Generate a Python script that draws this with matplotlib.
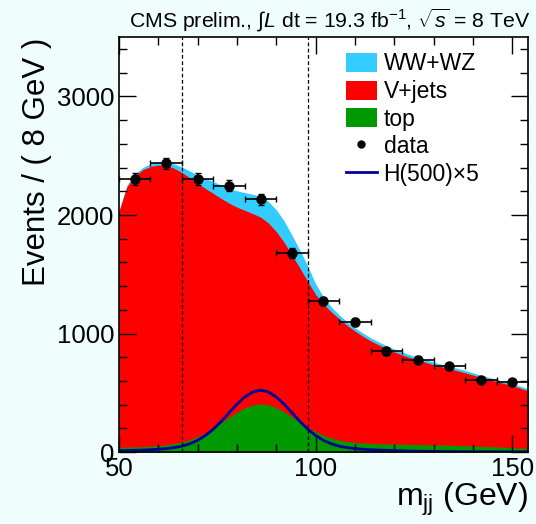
import numpy as np
import matplotlib
matplotlib.use("Agg")
import matplotlib.pyplot as plt
from matplotlib.patches import Patch
from matplotlib.lines import Line2D

plt.rcParams['font.family'] = ['Liberation Sans', 'DejaVu Sans']
plt.rcParams['mathtext.fontset'] = 'custom'
plt.rcParams['mathtext.rm'] = 'Liberation Sans'
plt.rcParams['mathtext.it'] = 'Liberation Sans:italic'
plt.rcParams['mathtext.bf'] = 'Liberation Sans:bold'

# ---- data ----
mjj = np.arange(50, 155, 2)  # sampling grid (GeV)

top_bkg = [42, 43, 44, 47, 51, 55, 62, 72, 86, 105, 131, 164, 204, 249, 295, 338,
           374, 399, 407, 399, 375, 340, 298, 254, 211, 173, 142, 118, 101, 89,
           82, 77, 74, 71, 70, 68, 67, 66, 65, 63, 62, 60, 59, 57, 55, 52, 50,
           47, 45, 42, 38, 35, 32]

vjets = [1990, 2195, 2285, 2334, 2359, 2367, 2358, 2323, 2274, 2209, 2135, 2060,
         1978, 1891, 1805, 1729, 1666, 1613, 1576, 1534, 1485, 1430, 1362, 1300,
         1229, 1157, 1108, 1065, 1023, 981, 940, 901, 865, 834, 805, 778, 754,
         733, 712, 695, 676, 661, 645, 631, 615, 599, 581, 567, 551, 537, 523,
         506, 487]

wwwz = [8, 12, 16, 19, 22, 26, 30, 37, 45, 58, 72, 86, 100, 112, 125, 138, 150,
        163, 175, 182, 185, 180, 170, 150, 130, 90, 60, 42, 34, 30, 28, 27, 26,
        25, 25, 24, 24, 23, 23, 22, 22, 21, 21, 20, 20, 19, 19, 18, 18, 17, 17,
        16, 16]

signal_x5 = [12, 14, 16, 18, 21, 25, 30, 39, 51, 71, 100, 141, 195, 260, 333,
             405, 466, 508, 523, 508, 466, 405, 333, 260, 195, 141, 100, 71, 51,
             39, 30, 25, 21, 18, 16, 14, 12, 10, 9, 8, 7, 6, 6, 5, 5, 4, 4, 4, 4,
             3, 3, 3, 3]

data_x = [54, 62, 70, 78, 86, 94, 102, 110, 118, 126, 134, 142, 150]
data_y = [2304, 2436, 2304, 2247, 2132, 1680, 1274, 1097, 852, 780, 723, 613, 591]

window_edges = [66, 98]

# ---- figure ----
fig = plt.figure(figsize=(5.36, 5.24), dpi=100, facecolor='#f0fdfd')
ax = fig.add_axes([0.222, 0.137, 0.763, 0.792])
ax.set_facecolor('white')

top_arr = np.array(top_bkg, dtype=float)
vj_arr = np.array(vjets, dtype=float)
ww_arr = np.array(wwwz, dtype=float)
lvl1 = top_arr
lvl2 = top_arr + vj_arr
lvl3 = lvl2 + ww_arr

c_ww = '#33ccff'
c_vj = '#ff0000'
c_top = '#009900'
c_sig = '#000099'

ax.fill_between(mjj, 0, lvl3, color=c_ww, lw=0)
ax.fill_between(mjj, 0, lvl2, color=c_vj, lw=0)
ax.fill_between(mjj, 0, lvl1, color=c_top, lw=0)
ax.plot(mjj, signal_x5, color=c_sig, lw=2)

for xe in window_edges:
    ax.axvline(xe, color='black', lw=0.9, ls=(0, (3, 2)))

dy = np.sqrt(np.array(data_y, dtype=float))
ax.errorbar(data_x, data_y, yerr=dy, xerr=4, fmt='o', color='black', ms=6.5,
            capsize=2, elinewidth=1.2, capthick=1.0, zorder=5, clip_on=True)

ax.set_xlim(50, 154)
ax.set_ylim(0, 3500)
ax.set_xticks([50, 100, 150])
ax.set_xticks(np.arange(50, 155, 10), minor=True)
ax.set_yticks([0, 1000, 2000, 3000])
ax.set_yticks(np.arange(0, 3501, 200), minor=True)
ax.tick_params(which='both', direction='in', top=True, right=True, labelsize=18.5)
ax.tick_params(which='major', length=12, width=1)
ax.tick_params(which='minor', length=6, width=1)
for s in ax.spines.values():
    s.set_linewidth(1.2)

ax.set_xlabel(r'm$_{\mathrm{jj}}$ (GeV)', fontsize=23, loc='right', labelpad=0)
ax.set_ylabel('Events / ( 8 GeV )', fontsize=22.5, loc='top', labelpad=3)

fig.text(0.989, 0.947,
         r'CMS prelim., $\int$$L$ dt = 19.3 fb$^{-1}$, $\sqrt{s}$ = 8 TeV',
         ha='right', va='baseline', fontsize=15.3)

handles = [Patch(facecolor=c_ww, edgecolor='none'),
           Patch(facecolor=c_vj, edgecolor='none'),
           Patch(facecolor=c_top, edgecolor='none'),
           Line2D([], [], ls='none', marker='o', color='black', ms=5),
           Line2D([], [], color=c_sig, lw=2)]
labels = ['WW+WZ', 'V+jets', 'top', 'data', 'H(500)×5']
fig.legend(handles, labels, loc='upper left', bbox_to_anchor=(0.645, 0.900),
           frameon=False, fontsize=16.5, handlelength=1.35, handleheight=0.9,
           labelspacing=0.2, handletextpad=0.3, borderpad=0, borderaxespad=0)

fig.savefig('out.png', dpi=100, facecolor=fig.get_facecolor())
